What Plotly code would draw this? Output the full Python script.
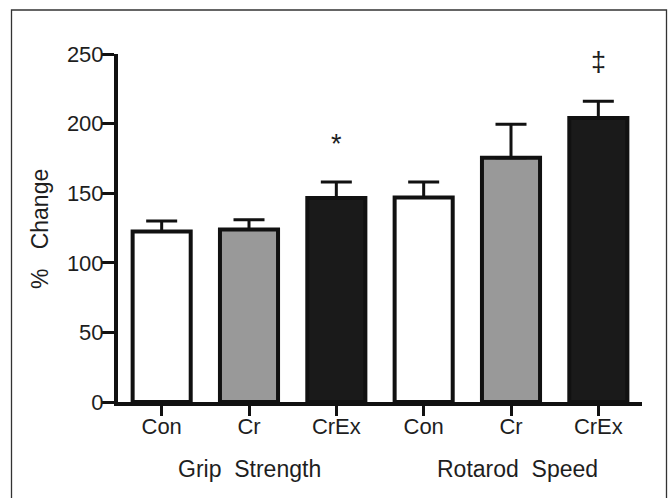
import plotly.graph_objects as go

categories = ["Con", "Cr", "CrEx", "Con", "Cr", "CrEx"]
values = [122.5, 124, 146.5, 147, 175.5, 204]
errors = [7.5, 7, 11.5, 11, 24, 12]
bar_colors = ["#ffffff", "#999999", "#1a1a1a", "#ffffff", "#999999", "#1a1a1a"]
groups = ["Grip\u00a0\u00a0Strength", "Rotarod\u00a0\u00a0Speed"]
group_pos = [1.01, 4.07]
marks = [(2, 185, "*"), (5, 244, "\u2021")]
y_ticks = [0, 50, 100, 150, 200, 250]

FONT = "Liberation Sans, Arial, sans-serif"
TXT = "#1e1e1e"
x = list(range(len(categories)))

fig = go.Figure()
fig.add_trace(go.Bar(
    x=x, y=values, width=0.665,
    marker=dict(color=bar_colors, line=dict(color="#111111", width=4)),
    error_y=dict(type="data", symmetric=False, array=errors,
                 arrayminus=[0] * len(errors), color="#111111",
                 thickness=3, width=15.5),
    showlegend=False,
))

for xp, yv, t in marks:
    fig.add_annotation(x=xp, y=yv, text=t, showarrow=False,
                       font=dict(family=FONT, size=27, color=TXT),
                       yanchor="middle")

for gx, gt in zip(group_pos, groups):
    fig.add_annotation(x=gx, y=-0.193, xref="x", yref="paper", text=gt,
                       showarrow=False, yanchor="middle",
                       font=dict(family=FONT, size=23, color=TXT))

fig.add_annotation(x=-0.149, y=0.497, xref="paper", yref="paper",
                   text="%\u00a0\u00a0\u00a0Change", textangle=-90, showarrow=False,
                   xanchor="center", yanchor="middle",
                   font=dict(family=FONT, size=23, color=TXT))

# outer frame
fig.add_shape(type="rect", xref="paper", yref="paper",
              x0=(11.5 - 118) / 524, x1=(666.5 - 118) / 524,
              y0=-0.35, y1=(402 - 10) / 348,
              line=dict(color="#333333", width=1.3), fillcolor="rgba(0,0,0,0)")

fig.update_layout(
    width=672, height=498,
    margin=dict(l=118, r=30, t=54, b=96),
    paper_bgcolor="white", plot_bgcolor="white",
    font=dict(family=FONT, size=22, color=TXT),
    bargap=0.3,
)
fig.update_xaxes(
    range=[-0.5, 5.5], tickmode="array", tickvals=x, ticktext=categories,
    showline=True, linecolor="#111111", linewidth=4,
    ticks="outside", ticklen=10, tickwidth=3, tickcolor="#111111",
    showgrid=False, zeroline=False, ticklabelstandoff=-8,
    tickfont=dict(family=FONT, size=22, color=TXT),
)
fig.update_yaxes(
    range=[0, 250], tickmode="array", tickvals=y_ticks,
    showline=True, linecolor="#111111", linewidth=4,
    ticks="outside", ticklen=12, tickwidth=3, tickcolor="#111111",
    showgrid=False, zeroline=False, ticklabelstandoff=-6,
    tickfont=dict(family=FONT, size=22, color=TXT),
)

fig.write_html("out.html")
